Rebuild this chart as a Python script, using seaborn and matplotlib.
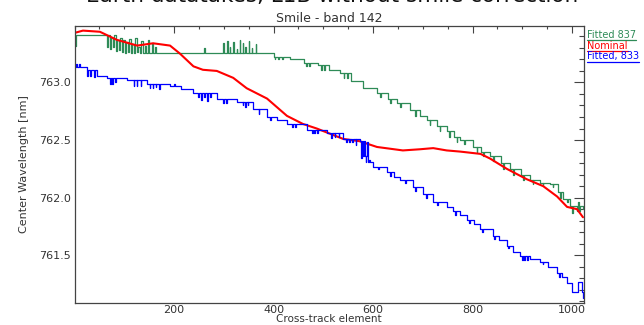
import numpy as np
import pandas as pd
import matplotlib
matplotlib.use("Agg")
import matplotlib.pyplot as plt
import seaborn as sns
from matplotlib.lines import Line2D
from matplotlib.ticker import MultipleLocator, FixedLocator, FormatStrFormatter

# ---------------- data ----------------
# Fitted 837 (green) - step breakpoints
green_x = [0, 3, 62, 66, 68, 72, 74, 77, 79, 83, 85, 89, 91, 95, 97, 101, 103, 107, 109,
           113, 115, 119, 121, 125, 127, 131, 133, 137, 141, 143, 147, 149, 155, 157, 162,
           164, 172, 400, 433, 462, 489, 511, 534, 556, 580, 608, 630, 649, 674, 694, 709,
           729, 748, 763, 775, 801, 818, 835, 857, 876, 897, 915, 936, 956, 971, 981, 995,
           1010, 1016, 1022]
green_y = [763.32, 763.41, 763.41, 763.31, 763.41, 763.29, 763.39, 763.31, 763.41, 763.27,
           763.37, 763.28, 763.39, 763.26, 763.37, 763.255, 763.35, 763.26, 763.38, 763.255,
           763.33, 763.255, 763.39, 763.26, 763.31, 763.255, 763.36, 763.255, 763.32, 763.255,
           763.37, 763.255, 763.34, 763.255, 763.31, 763.255, 763.255, 763.22, 763.20, 763.17,
           763.15, 763.11, 763.08, 763.01, 762.95, 762.91, 762.86, 762.82, 762.76, 762.71,
           762.67, 762.62, 762.58, 762.53, 762.50, 762.44, 762.40, 762.36, 762.30, 762.25,
           762.20, 762.15, 762.13, 762.12, 762.05, 761.99, 761.93, 761.88, 761.93, 761.90]
# single-sample excursions of the green fit
green_spike_x = [260, 299, 306, 312, 319, 326, 332, 338, 343, 350, 356, 364,
                 402, 409, 417, 466, 472, 496, 501, 541, 548, 615, 635, 655, 684, 714,
                 734, 753, 768, 783, 808, 822, 842, 862, 882, 901, 921, 941, 961, 976,
                 990, 1000, 1012]
green_spike_y = [763.30, 763.34, 763.36, 763.31, 763.35, 763.29, 763.37, 763.34, 763.31,
                 763.36, 763.30, 763.33,
                 763.20, 763.20, 763.20, 763.14, 763.14, 763.11, 763.11, 763.04, 763.04,
                 762.87, 762.82, 762.79, 762.71, 762.63, 762.58, 762.53, 762.48, 762.47,
                 762.40, 762.36, 762.32, 762.25, 762.20, 762.15, 762.12, 762.11, 762.09,
                 762.00, 761.96, 761.87, 761.96]

# Nominal (red)
nominal_x = [0, 17, 51, 85, 126, 158, 192, 212, 239, 258, 286, 319, 346, 387, 427, 459,
             487, 540, 573, 608, 660, 694, 721, 748, 775, 816, 835, 869, 909, 942, 970,
             990, 1010, 1022]
nominal_y = [763.43, 763.45, 763.44, 763.37, 763.32, 763.34, 763.32, 763.25, 763.14,
             763.11, 763.10, 763.04, 762.95, 762.86, 762.71, 762.64, 762.60, 762.51,
             762.49, 762.44, 762.41, 762.42, 762.43, 762.41, 762.40, 762.38, 762.34,
             762.25, 762.16, 762.10, 762.01, 761.92, 761.90, 761.83]

# Fitted, 833 (blue) - step breakpoints
blue_x = [0, 25, 46, 66, 106, 146, 192, 215, 239, 286, 326, 359, 387, 407, 427, 468, 507,
          540, 573, 580, 590, 600, 628, 643, 655, 680, 701, 721, 748, 761, 775, 789, 803,
          816, 841, 854, 869, 882, 896, 916, 936, 951, 970, 980, 990, 1000, 1012, 1020,
          1022]
blue_y = [763.13, 763.11, 763.06, 763.04, 763.02, 762.99, 762.97, 762.94, 762.91, 762.86,
          762.83, 762.77, 762.70, 762.67, 762.64, 762.59, 762.56, 762.51, 762.49, 762.36,
          762.31, 762.27, 762.22, 762.18, 762.15, 762.09, 762.03, 761.96, 761.92, 761.88,
          761.85, 761.81, 761.77, 761.73, 761.67, 761.63, 761.58, 761.53, 761.49, 761.47,
          761.44, 761.40, 761.35, 761.31, 761.26, 761.18, 761.27, 761.18, 761.13]
blue_spike_x = [3, 10, 26, 32, 40, 72, 76, 82, 119, 125, 133, 151, 157, 163, 170, 200, 249,
                255, 261, 267, 273, 299, 304, 338, 343, 348, 370, 393, 437, 444, 477, 482,
                487, 516, 523, 531, 546, 552, 558, 565, 576, 582, 585, 588, 592, 595, 610,
                635, 664, 684, 706, 729, 765, 793, 819, 844, 872, 900, 904, 909, 941, 974]
blue_spike_y = [763.16, 763.16, 763.06, 763.06, 763.05, 762.99, 762.99, 763.00, 762.97,
                762.97, 762.97, 762.95, 762.95, 762.96, 762.94, 762.99, 762.87, 762.85,
                762.87, 762.84, 762.87, 762.82, 762.82, 762.80, 762.79, 762.80, 762.73,
                762.67, 762.61, 762.61, 762.56, 762.56, 762.56, 762.52, 762.53, 762.53,
                762.48, 762.48, 762.48, 762.46, 762.34, 762.49, 762.31, 762.48, 762.33,
                762.31, 762.25, 762.19, 762.13, 762.06, 762.00, 761.94, 761.85, 761.78,
                761.70, 761.64, 761.56, 761.46, 761.46, 761.46, 761.42, 761.31]

x_major = [200, 400, 600, 800, 1000]
y_major = [761.5, 762.0, 762.5, 763.0]
legend_labels = ["Fitted 837", "Nominal", "Fitted, 833"]
colors = ["#2e8b57", "#ff0000", "#0000ff"]


def with_spikes(bx, by, sx, sy, w=1.5):
    bx = np.asarray(bx, float)
    by = np.asarray(by, float)
    xs, ys = list(bx), list(by)
    for x, y in zip(sx, sy):
        i = max(np.searchsorted(bx, x, side="right") - 1, 0)
        xs += [x, x + w]
        ys += [y, by[i]]
    order = np.argsort(xs, kind="stable")
    return np.array(xs)[order], np.array(ys)[order]


gx, gy = with_spikes(green_x, green_y, green_spike_x, green_spike_y)
bx, by = with_spikes(blue_x, blue_y, blue_spike_x, blue_spike_y)
df_g = pd.DataFrame({"x": gx, "y": gy})
df_r = pd.DataFrame({"x": nominal_x, "y": nominal_y})
df_b = pd.DataFrame({"x": bx, "y": by})

sns.set_theme(style="white")
plt.rcParams["font.family"] = ["DejaVu Sans"]

fig = plt.figure(figsize=(6.44, 3.25), dpi=100)
ax = fig.add_axes([0.1157, 0.0692, 0.7911, 0.8508])

sns.lineplot(data=df_g, x="x", y="y", ax=ax, color=colors[0], lw=0.9,
             estimator=None, sort=False, drawstyle="steps-post", legend=False)
sns.lineplot(data=df_r, x="x", y="y", ax=ax, color=colors[1], lw=1.5,
             estimator=None, sort=False, legend=False)
sns.lineplot(data=df_b, x="x", y="y", ax=ax, color=colors[2], lw=0.9,
             estimator=None, sort=False, drawstyle="steps-post", legend=False)

ax.set_xlim(0, 1024)
ax.set_ylim(761.09, 763.49)
ax.xaxis.set_major_locator(FixedLocator(x_major))
ax.xaxis.set_minor_locator(MultipleLocator(50))
ax.yaxis.set_major_locator(FixedLocator(y_major))
ax.yaxis.set_minor_locator(MultipleLocator(0.1))
ax.yaxis.set_major_formatter(FormatStrFormatter("%.1f"))

axc = "#444444"
ax.tick_params(which="both", direction="in", top=True, right=True, color=axc,
               width=0.8, labelsize=8, labelcolor="#333333")
ax.tick_params(axis="x", which="major", length=5, pad=2)
ax.tick_params(axis="x", which="minor", length=2.5)
ax.tick_params(axis="y", which="major", length=7, pad=2.5)
ax.tick_params(axis="y", which="minor", length=3.5)
for s in ax.spines.values():
    s.set_color(axc)
    s.set_linewidth(0.9)

ax.set_xlabel("Cross-track element", fontsize=7.5, color="#333333")
ax.xaxis.set_label_coords(0.5, -0.043)
ax.set_ylabel("Center Wavelength [nm]", fontsize=8, color="#333333")
ax.yaxis.set_label_coords(-0.09, 0.5)

fig.text(0.516, 1 - 2 / 325, "Earth datatakes, L1B without smile correction",
         ha="center", va="baseline", fontsize=15.5, color="#111111")
fig.text(0.511, 1 - 18.5 / 325, "Smile - band 142", ha="center", va="center",
         fontsize=9, color="#333333")

# legend at the right: coloured text with underline
fig.canvas.draw()
renderer = fig.canvas.get_renderer()
ys_text = [34.5, 46.3, 56.3]
ys_line = [39.5, 51.0, 62.0]
W, H = 644, 325
for lab, c, yt, yl in zip(legend_labels, colors, ys_text, ys_line):
    t = fig.text(587 / W, 1 - yt / H, lab, ha="left", va="center", fontsize=7, color=c)
    bb = t.get_window_extent(renderer)
    fig.add_artist(Line2D([587 / W, min(bb.x1, W) / W], [1 - yl / H, 1 - yl / H],
                          color=c, lw=0.9, transform=fig.transFigure))

fig.savefig("out.png", dpi=100)
